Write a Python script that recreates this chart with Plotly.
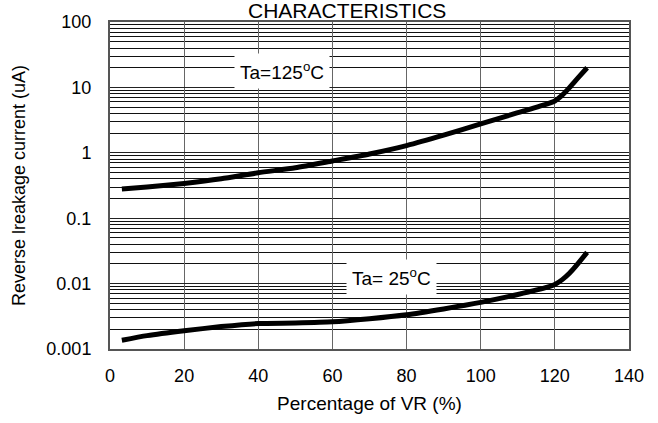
import plotly.graph_objects as go

# ---- data ----
pct_125 = [3.2, 10, 20, 30, 40, 50, 60, 70, 80, 90, 100, 110, 118, 120, 122, 124, 126, 128.7]
ir_125 = [0.28, 0.30, 0.34, 0.40, 0.495, 0.59, 0.75, 0.96, 1.29, 1.86, 2.77, 4.1, 5.6, 6.2, 7.6, 10.0, 13.5, 20.0]

pct_25 = [3.2, 10, 20, 30, 40, 50, 60, 70, 80, 90, 100, 110, 118, 120, 122, 124, 126, 128.7]
ir_25 = [0.00136, 0.0016, 0.0019, 0.0022, 0.00245, 0.0025, 0.0026, 0.0029, 0.00334, 0.0041, 0.00516, 0.0068, 0.0088, 0.0097, 0.0115, 0.0145, 0.0195, 0.030]

x_ticks = [0, 20, 40, 60, 80, 100, 120, 140]
y_ticks = [0.001, 0.01, 0.1, 1, 10, 100]
y_tick_text = ["0.001", "0.01", "0.1", "1", "10", "100"]

FONT = "Liberation Sans, Arial, sans-serif"

fig = go.Figure()
for xs, ys in [(pct_125, ir_125), (pct_25, ir_25)]:
    fig.add_trace(go.Scatter(x=xs, y=ys, mode="lines",
                             line=dict(color="black", width=5, shape="spline", smoothing=0.6),
                             showlegend=False, hoverinfo="skip"))

fig.update_layout(
    width=658, height=423,
    margin=dict(l=110, r=29, t=17, b=72),
    paper_bgcolor="white", plot_bgcolor="white",
    font=dict(family=FONT, size=18, color="black"),
    xaxis=dict(range=[0, 140], tickvals=x_ticks, showgrid=True, gridcolor="#666666", gridwidth=1.4,
               showline=True, linecolor="#555555", linewidth=2, mirror=True,
               ticks="", zeroline=False, tickfont=dict(size=18), ticklabelstandoff=9,
               title=dict(text="Percentage of VR (%)", font=dict(size=19), standoff=12)),
    yaxis=dict(type="log", range=[-3, 2], tickvals=y_ticks, ticktext=y_tick_text,
               showgrid=True, gridcolor="#222222", gridwidth=1.2,
               minor=dict(dtick="D1", showgrid=True, gridcolor="#111111", gridwidth=1, ticks=""),
               showline=True, linecolor="#555555", linewidth=2, mirror=True,
               ticks="", zeroline=False, tickfont=dict(size=18), ticklabelstandoff=13,
               title=dict(text="Reverse lreakage current (uA)", font=dict(size=18), standoff=16)),
    annotations=[
        dict(x=46.4, y=1.251, xref="x", yref="y", text="Ta=125<sup>o</sup>C", showarrow=False,
             bgcolor="white", font=dict(size=19), borderpad=5),
        dict(x=75.8, y=-1.892, xref="x", yref="y", text="Ta= 25<sup>o</sup>C", showarrow=False,
             bgcolor="white", font=dict(size=19), borderpad=5),
        dict(x=(347 - 110) / 519, y=1 + (17 - 5.5) / 334, xref="paper", yref="paper",
             text="CHARACTERISTICS", showarrow=False, yanchor="middle",
             font=dict(size=21)),
    ],
)

fig.write_html("out.html", config={"displayModeBar": False},
               post_script="document.body.style.margin='0px';")
